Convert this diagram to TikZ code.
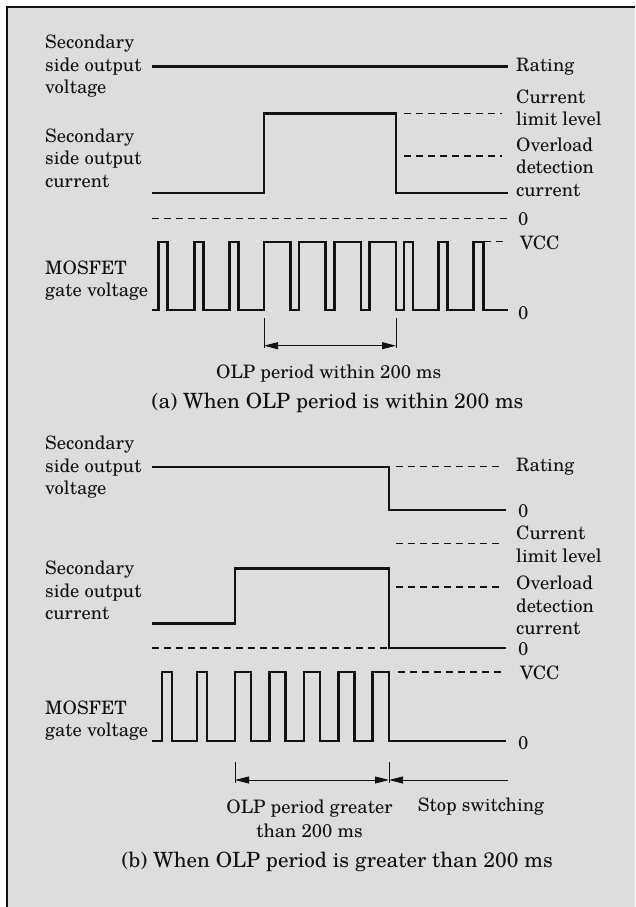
\documentclass[tikz,border=0pt]{standalone}
\usepackage{fontspec}
\setmainfont{TeX Gyre Schola}
\usetikzlibrary{arrows.meta}
\definecolor{bg}{RGB}{220,221,220}
\definecolor{ink}{RGB}{18,18,18}
\begin{document}
\begin{tikzpicture}[x=1pt,y=-1pt,
  sig/.style={line width=2.4pt, line join=miter, draw=ink},
  dsh/.style={line width=1.2pt, dash pattern=on 7pt off 5pt, draw=ink},
  thinl/.style={line width=0.9pt, draw=ink},
  arrb/.style={thinl, {Triangle[length=14pt,width=7pt]}-{Triangle[length=14pt,width=7pt]}},
  arrl/.style={thinl, {Triangle[length=14pt,width=7pt]}-},
  lbl/.style={font=\fontsize{18.5}{22.5}\selectfont, inner sep=0pt, align=left, text=ink},
  ctr/.style={font=\fontsize{18.5}{24}\selectfont, inner sep=0pt, align=center, text=ink},
  capt/.style={font=\fontsize{21}{25}\selectfont, inner sep=0pt, text=ink},
]
\useasboundingbox (0,0) rectangle (635,907);
\fill[bg] (7,7) rectangle (635,907);
\draw[line width=2pt, ink] (7,907) -- (7,7) -- (635,7);

% ---------- (a) ----------
\node[lbl, anchor=west] (a-vl) at (45,66.3) {Secondary\\side output\\voltage};
\node[lbl, anchor=west] (a-cl) at (45,158) {Secondary\\side output\\current};
\node[lbl, anchor=west] (a-ml) at (45,280.8) {MOSFET\\gate voltage};

\draw[sig] (152,66.7) -- (508,66.7);
\draw[sig] (152,192.7) -- (264,192.7) -- (264,113.3) -- (396,113.3) -- (396,192.7) -- (508,192.7);
\draw[dsh] (404,113.3) -- (502,113.3);
\draw[dsh] (404,156) -- (502,156);
\draw[dsh] (152,218.3) -- (508,218.3);

\draw[sig] (152,310) foreach \r/\f in {158.3/167.3,194.5/203.5,229.3/238.3,264/290.3,299/325.3,334.5/360.8,369.5/396,404/413,438.5/447.5,473.5/483.3}
  { -- (\r,310) -- (\r,241.7) -- (\f,241.7) -- (\f,310) } -- (508,310);
\draw[dsh] (484,241.7) -- (503,241.7);

\node[lbl, anchor=west] (a-rat) at (516,66.7) {Rating};
\node[lbl, anchor=west] (a-cll) at (516,108) {Current\\limit level};
\node[lbl, anchor=west] (a-odc) at (516,167.3) {Overload\\detection\\current};
\node[lbl, anchor=west] (a-z1) at (518,219) {0};
\node[lbl, anchor=west] (a-vcc) at (520,243.3) {VCC};
\node[lbl, anchor=west] (a-z2) at (518,313) {0};

\coordinate (a-t1a) at (264,318);
\coordinate (a-t1b) at (264,348);
\coordinate (a-t2a) at (396,318);
\coordinate (a-t2b) at (396,348);
\coordinate (a-p1) at (264,345.7);
\coordinate (a-p2) at (396,345.7);
\draw[thinl] (a-t1a) -- (a-t1b);
\draw[thinl] (a-t2a) -- (a-t2b);
\draw[arrb] (a-p1) -- (a-p2);

\node[ctr] (a-olp) at (328.7,373.3) {OLP period within 200 ms};
\node[capt] (a-cap) at (337.6,403.3) {(a) When OLP period is within 200 ms};

% ---------- (b) ----------
\node[lbl, anchor=west] (b-vl) at (45,467.5) {Secondary\\side output\\voltage};
\node[lbl, anchor=west] (b-cl) at (45,590.5) {Secondary\\side output\\current};
\node[lbl, anchor=west] (b-ml) at (45,720.8) {MOSFET\\gate voltage};

\draw[sig] (152,466.7) -- (389,466.7) -- (389,510) -- (506,510);
\draw[dsh] (396,466.7) -- (502,466.7);
\draw[dsh] (396,543.3) -- (502,543.3);
\draw[dsh] (396,587) -- (502,587);
\draw[sig] (152,623.3) -- (235,623.3) -- (235,568.3) -- (389,568.3) -- (389,647.7) -- (506,647.7);
\draw[dsh] (152,648) -- (389,648);

\draw[sig] (152,741) foreach \r/\f in {161.7/171.7,196.7/206.7,235/251,269.5/285.5,304/320,338.5/354.5,372.5/389}
  { -- (\r,741) -- (\r,671.7) -- (\f,671.7) -- (\f,741) } -- (506,741);
\draw[dsh] (398,672) -- (502,672);

\node[lbl, anchor=west] (b-rat) at (516,466.7) {Rating};
\node[lbl, anchor=west] (b-z1) at (518,511) {0};
\node[lbl, anchor=west] (b-cll) at (516,544.2) {Current\\limit level};
\node[lbl, anchor=west] (b-odc) at (516,605.5) {Overload\\detection\\current};
\node[lbl, anchor=west] (b-z2) at (518,649) {0};
\node[lbl, anchor=west] (b-vcc) at (520,673) {VCC};
\node[lbl, anchor=west] (b-z3) at (518,743) {0};

\coordinate (b-t1a) at (235,761.7);
\coordinate (b-t1b) at (235,783);
\coordinate (b-t2a) at (389,761.7);
\coordinate (b-t2b) at (389,783);
\coordinate (b-p1) at (235,780);
\coordinate (b-p2) at (389,780);
\coordinate (b-p3) at (508,780);
\draw[thinl] (b-t1a) -- (b-t1b);
\draw[thinl] (b-t2a) -- (b-t2b);
\draw[arrb] (b-p1) -- (b-p2);
\draw[arrl] (b-p2) -- (b-p3);

\node[ctr] (b-olp) at (309.5,818.7) {OLP period greater\\than 200 ms};
\node[ctr] (b-stop) at (481,806.7) {Stop switching};
\node[capt] (b-cap) at (337.2,861.7) {(b) When OLP period is greater than 200 ms};
\end{tikzpicture}
\end{document}
